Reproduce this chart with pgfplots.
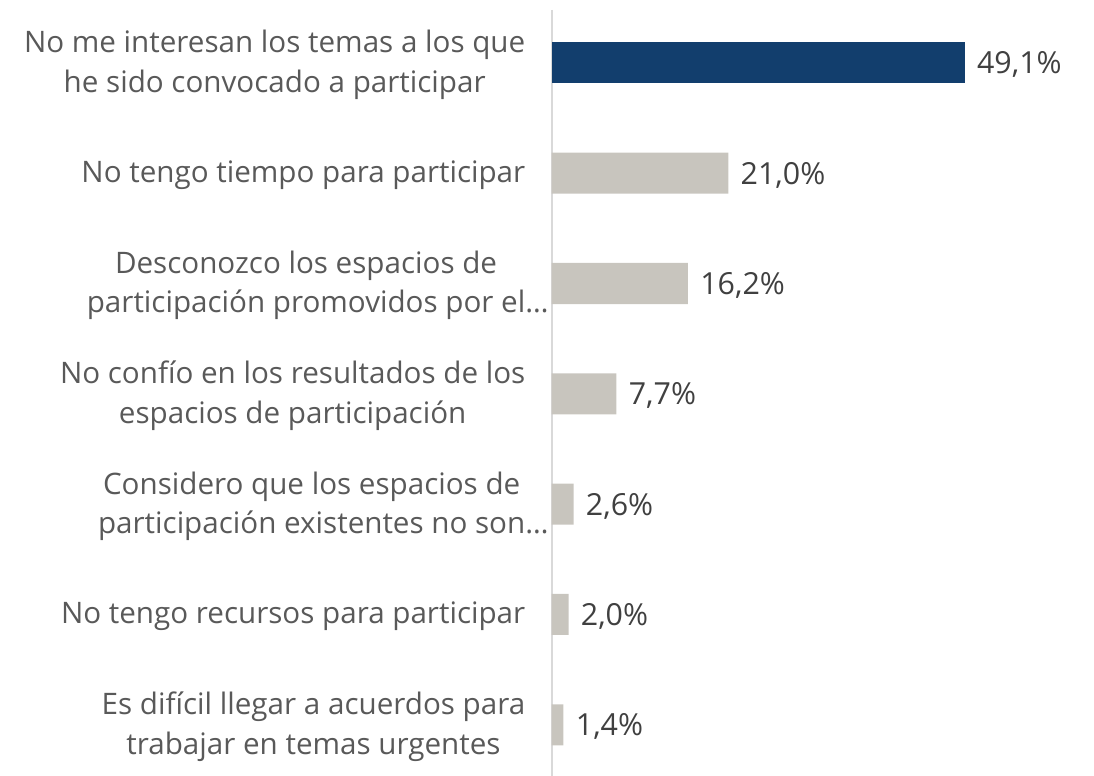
\documentclass[border=0pt]{standalone}
\usepackage{fontspec}
\setmainfont{Open Sans}
\usepackage{pgfplots}
\pgfplotsset{compat=1.18}

\definecolor{barblue}{HTML}{123E6D}
\definecolor{bargray}{HTML}{C8C5BE}
\definecolor{axisgray}{HTML}{D9D9D9}
\definecolor{labelgray}{HTML}{595959}
\definecolor{valuegray}{HTML}{404040}

\begin{document}
\begin{tikzpicture}
% 1 px of the reference = 0.5pt; x = 0 sits at 551.7 px
\useasboundingbox (-275.85pt,0pt) rectangle (271.15pt,388pt);
\begin{axis}[
    at={(0pt,0pt)}, anchor=south west,
    scale only axis,
    width=271.15pt, height=383pt,
    xbar, bar width=20.5pt, bar shift=0pt,
    xmin=0, xmax=64.48,
    ymin=-0.479, ymax=6.464, y dir=reverse,
    axis x line=none,
    axis y line*=left,
    y axis line style={axisgray, line width=1pt},
    xtick=\empty,
    ytick={0,...,6},
    major tick length=0pt,
    yticklabels={
        {No me interesan los temas a los que\\he sido convocado a participar},
        {No tengo tiempo para participar},
        {Desconozco los espacios de\\participación promovidos por el\rlap{…}},
        {No confío en los resultados de los\\espacios de participación},
        {Considero que los espacios de\\participación existentes no son\rlap{…}},
        {No tengo recursos para participar},
        {Es difícil llegar a acuerdos para\\trabajar en temas urgentes},
    },
    yticklabel style={font=\fontsize{14.8}{19.8}\selectfont, text=labelgray,
        align=center, inner sep=0pt, xshift=-13pt, yshift=-1pt},
    point meta=x,
    nodes near coords={\pgfmathprintnumber[fixed,fixed zerofill,precision=1,use comma,assume math mode=true]{\pgfplotspointmeta}\%},
    nodes near coords style={font=\fontsize{15.2}{17}\selectfont, text=valuegray,
        anchor=west, inner sep=0pt, xshift=6pt, yshift=-1pt},
    clip=false,
]
\addplot[fill=barblue, draw=none] coordinates {(49.1,0)};
\addplot[fill=bargray, draw=none] coordinates {
    (21.0,1) (16.2,2) (7.7,3) (2.6,4) (2.0,5) (1.4,6)
};
\end{axis}
\end{tikzpicture}
\end{document}
